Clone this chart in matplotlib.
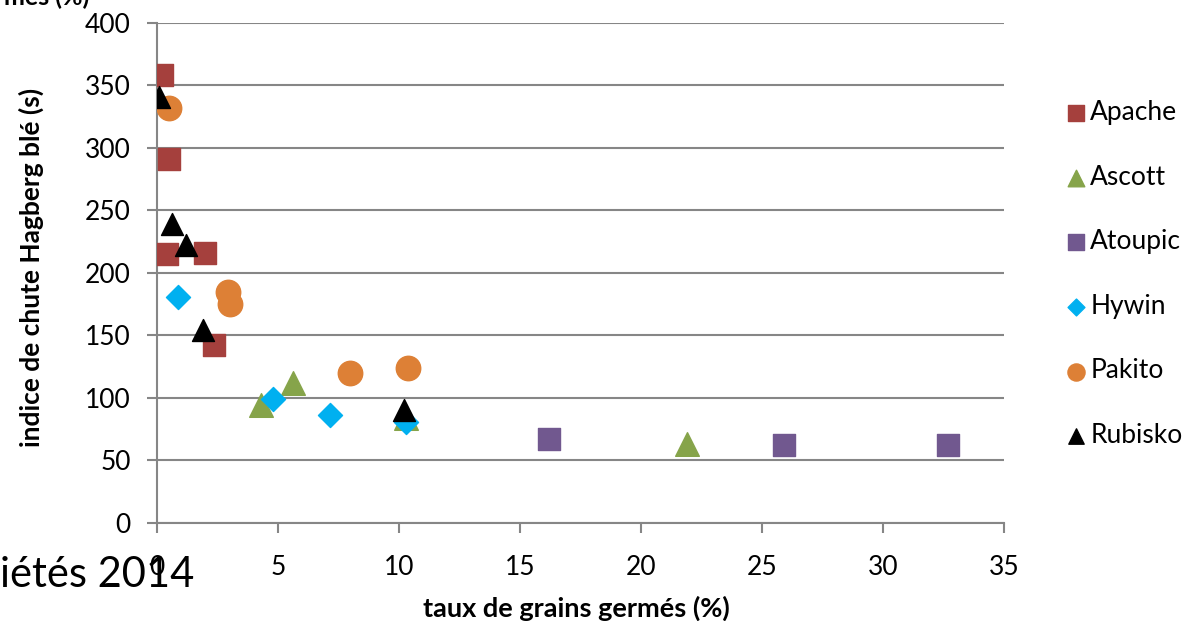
import matplotlib.pyplot as plt

plt.rcParams['font.family'] = ['Lato', 'DejaVu Sans']

# Data (taux de grains germés %, indice de chute s)
apache_x = [0.2, 0.5, 0.4, 2.0, 2.35]
apache_y = [358, 291, 215, 216, 142]
ascott_x = [4.3, 5.6, 10.3, 21.9]
ascott_y = [94, 112, 84, 63]
atoupic_x = [16.2, 25.9, 32.7]
atoupic_y = [67, 62, 62]
hywin_x = [0.87, 4.8, 7.15, 10.3]
hywin_y = [181, 99, 86, 81]
pakito_x = [0.5, 2.93, 3.0, 7.97, 10.37]
pakito_y = [332, 185, 175, 120, 124]
rubisko_x = [0.1, 0.6, 1.2, 1.9, 10.2]
rubisko_y = [341, 239, 222, 154, 90]

fig = plt.figure(figsize=(11.94, 6.21), dpi=100)
ax = fig.add_axes([0.1315, 0.158, 0.7095, 0.805])

ax.scatter(apache_x, apache_y, marker='s', s=270, color='#A5403D', label='Apache', zorder=3)
ax.scatter(ascott_x, ascott_y, marker='^', s=290, color='#86A44A', label='Ascott', zorder=3)
ax.scatter(atoupic_x, atoupic_y, marker='s', s=270, color='#71588F', label='Atoupic', zorder=3)
ax.scatter(hywin_x, hywin_y, marker='D', s=150, color='#00B0F0', label='Hywin', zorder=3)
ax.scatter(pakito_x, pakito_y, marker='o', s=310, color='#DD8036', label='Pakito', zorder=3)
ax.scatter(rubisko_x, rubisko_y, marker='^', s=250, color='black', label='Rubisko', zorder=4)

ax.set_xlim(0, 35)
ax.set_ylim(0, 400)
ax.set_xticks(range(0, 36, 5))
ax.set_yticks(range(0, 401, 50))
ax.grid(axis='y', color='#868686', linewidth=1.5)
ax.set_axisbelow(True)
for side in ['top', 'right']:
    ax.spines[side].set_visible(False)
for side in ['left', 'bottom']:
    ax.spines[side].set_color('#868686')
    ax.spines[side].set_linewidth(1.5)
ax.tick_params(axis='both', colors='#868686', width=1.5, length=7, labelsize=19,
               labelcolor='black')
ax.tick_params(axis='y', pad=12)
ax.tick_params(axis='x', pad=16)

ax.set_xlabel('taux de grains germés (%)', fontsize=19.5, fontweight='bold')
ax.set_ylabel('indice de chute Hagberg blé (s)', fontsize=19, fontweight='bold')
ax.xaxis.set_label_coords(0.495, -0.145)
ax.yaxis.set_label_coords(-0.133, 0.51)

fig.legend(loc='upper left', bbox_to_anchor=(0.87, 0.877), frameon=False, fontsize=19,
           handletextpad=0.0, labelspacing=1.5, markerscale=0.7, handlelength=1.05)

fig.text(0.0, 0.055, 'iétés 2014', fontsize=30)
fig.text(0.003, 1.005, 'mes (%)', fontsize=18, fontweight='bold', va='center')

fig.savefig('out.png', dpi=100)
